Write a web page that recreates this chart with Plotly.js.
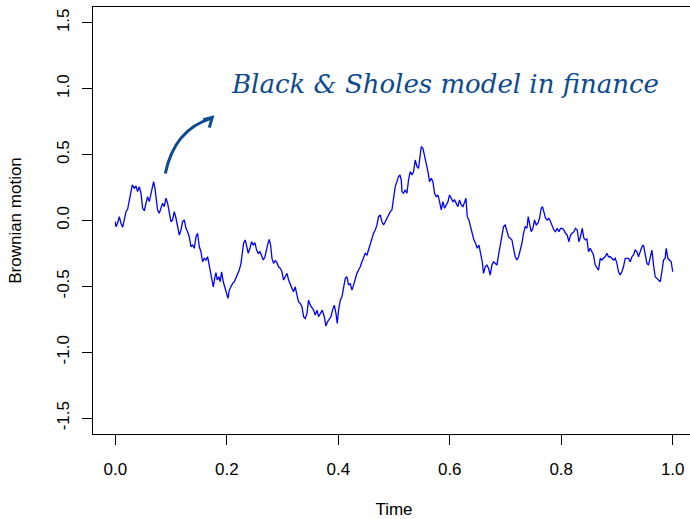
<!DOCTYPE html>
<html>
<head>
<meta charset="utf-8">
<script src="https://cdn.plot.ly/plotly-3.0.1.min.js"></script>
<style>
html,body{margin:0;padding:0;overflow:hidden;background:#fff;}
#chart{width:696px;height:519px;}
</style>
</head>
<body>
<div id="chart"></div>
<script>
// Time values (x) of the Brownian path
const time = [
0.0000,0.0013,0.0041,0.0072,0.0102,0.0131,0.0161,0.0192,0.0221,0.0251,0.0282,0.0305,0.0341,0.0371,0.0400,0.0430,0.0461,0.0490,0.0520,0.0551,
0.0579,0.0610,0.0640,0.0669,0.0687,0.0712,0.0735,0.0759,0.0789,0.0820,0.0848,0.0879,0.0909,0.0938,0.0969,0.0999,0.1028,0.1058,0.1089,0.1117,
0.1148,0.1178,0.1207,0.1238,0.1268,0.1297,0.1327,0.1358,0.1387,0.1417,0.1448,0.1476,0.1507,0.1537,0.1566,0.1596,0.1627,0.1656,0.1686,
0.1727,0.1758,0.1788,0.1806,0.1830,0.1860,0.1883,0.1907,0.1937,0.1967,0.1996,0.2022,0.2045,0.2075,0.2104,0.2135,0.2165,0.2194,0.2224,0.2255,
0.2278,0.2301,0.2332,0.2362,0.2386,0.2416,0.2445,0.2475,0.2506,0.2535,0.2565,0.2596,0.2624,0.2655,0.2685,0.2709,0.2739,0.2762,0.2786,0.2811,
0.2839,0.2870,0.2900,0.2929,0.2960,0.2990,0.3019,0.3049,0.3080,0.3109,0.3139,0.3170,0.3198,0.3229,0.3259,0.3288,
0.3318,0.3349,0.3378,0.3408,0.3439,0.3467,0.3498,0.3528,0.3557,0.3587,0.3618,0.3647,0.3677,0.3713,0.3749,0.3779,0.3808,0.3839,0.3869,0.3898,
0.3928,0.3959,0.3982,0.4005,0.4036,0.4066,0.4095,0.4126,0.4156,0.4185,0.4215,0.4246,0.4274,0.4305,0.4335,0.4364,0.4395,0.4425,0.4454,0.4484,
0.4515,0.4543,0.4574,0.4605,0.4633,0.4664,0.4694,0.4723,0.4753,0.4784,0.4813,0.4843,0.4874,0.4902,0.4933,0.4963,
0.5022,0.5053,0.5082,0.5107,0.5130,0.5143,0.5171,0.5202,0.5232,0.5261,0.5291,0.5322,0.5351,0.5381,0.5412,0.5440,0.5471,0.5489,0.5519,0.5548,
0.5578,0.5609,0.5638,0.5668,0.5699,0.5727,0.5758,0.5788,0.5817,0.5848,0.5878,0.5907,0.5937,0.5968,0.5996,0.6027,0.6057,0.6086,0.6117,0.6147,
0.6176,0.6206,0.6237,0.6265,0.6291,0.6314,0.6344,0.6373,0.6404,0.6434,0.6463,0.6493,0.6524,0.6553,0.6583,0.6606,0.6637,0.6667,0.6696,0.6726,
0.6757,0.6786,0.6816,0.6847,0.6875,0.6906,0.6936,0.6965,0.6996,0.7026,0.7055,0.7085,0.7116,0.7144,0.7175,0.7205,0.7234,0.7265,0.7295,0.7324,
0.7354,0.7385,0.7408,0.7431,0.7462,0.7492,0.7521,0.7552,0.7582,0.7611,0.7641,0.7664,0.7690,0.7718,0.7749,0.7779,0.7808,0.7839,0.7869,0.7898,
0.7928,0.7959,0.7987,0.8018,0.8048,0.8077,0.8108,0.8138,0.8167,0.8197,0.8228,0.8256,0.8287,0.8317,0.8346,0.8377,0.8407,0.8436,
0.8461,0.8490,0.8520,0.8551,0.8579,0.8610,0.8640,0.8669,0.8700,0.8730,0.8759,0.8789,0.8820,0.8848,0.8879,0.8909,0.8938,0.8969,0.8999,0.9028,
0.9058,0.9089,0.9117,0.9148,0.9178,0.9207,0.9238,0.9268,0.9297,0.9327,0.9358,0.9387,0.9417,0.9448,0.9476,0.9507,0.9537,0.9566,0.9596,0.9627,
0.9656,0.9686,0.9717,0.9745,0.9776,0.9806,0.9835,0.9865,0.9883,0.9914,0.9943,0.9973,1.0000
];
// Brownian motion values (y)
const motion = [
-0.009,-0.047,-0.021,0.029,-0.021,-0.052,0.004,0.067,0.085,0.143,0.207,0.270,0.244,0.262,0.219,0.257,0.207,0.093,0.074,0.131,
0.181,0.143,0.207,0.270,0.295,0.244,0.156,0.080,0.055,0.105,0.131,0.105,0.169,0.131,0.055,-0.009,0.004,0.067,0.017,-0.059,
-0.110,-0.072,-0.009,0.004,-0.059,-0.085,-0.123,-0.199,-0.186,-0.211,-0.123,-0.097,-0.199,-0.237,-0.313,-0.287,-0.300,-0.275,-0.351,
-0.427,-0.503,-0.427,-0.396,-0.452,-0.427,-0.465,-0.389,-0.465,-0.515,-0.548,-0.591,-0.528,-0.497,-0.477,-0.465,-0.439,-0.414,-0.376,-0.325,
-0.249,-0.173,-0.148,-0.199,-0.249,-0.211,-0.161,-0.186,-0.169,-0.224,-0.249,-0.237,-0.270,-0.300,-0.275,-0.224,-0.173,-0.143,-0.186,-0.287,
-0.325,-0.305,-0.320,-0.351,-0.363,-0.389,-0.452,-0.427,-0.401,-0.452,-0.477,-0.515,-0.541,-0.503,-0.566,-0.617,
-0.629,-0.655,-0.730,-0.743,-0.705,-0.604,-0.642,-0.667,-0.680,-0.718,-0.680,-0.730,-0.705,-0.680,-0.730,-0.801,-0.768,-0.743,-0.730,-0.680,
-0.642,-0.705,-0.781,-0.680,-0.604,-0.579,-0.515,-0.439,-0.427,-0.490,-0.477,-0.528,-0.490,-0.439,-0.401,-0.376,-0.351,-0.313,-0.275,-0.249,
-0.262,-0.224,-0.173,-0.135,-0.097,-0.072,-0.034,0.029,0.042,-0.009,-0.034,-0.009,0.017,0.042,0.067,0.080,
0.257,0.295,0.333,0.345,0.308,0.219,0.207,0.232,0.207,0.308,0.371,0.345,0.371,0.459,0.409,0.396,0.510,0.560,0.548,0.497,
0.446,0.371,0.295,0.320,0.295,0.207,0.181,0.194,0.143,0.080,0.143,0.093,0.118,0.143,0.194,0.169,0.143,0.156,0.131,0.105,
0.156,0.118,0.105,0.143,0.169,0.029,0.004,-0.047,-0.110,-0.148,-0.173,-0.211,-0.186,-0.237,-0.313,-0.401,-0.351,-0.338,-0.363,-0.414,
-0.338,-0.313,-0.325,-0.338,-0.262,-0.186,-0.123,-0.047,-0.034,-0.072,-0.123,-0.135,-0.148,-0.211,-0.275,-0.300,-0.275,-0.224,-0.173,-0.097,
-0.047,-0.059,0.029,-0.021,-0.085,-0.059,0.004,-0.034,-0.021,0.017,0.093,0.105,0.067,0.017,0.004,0.017,-0.009,-0.047,-0.072,-0.085,
-0.059,-0.085,-0.059,-0.059,-0.072,-0.097,-0.110,-0.161,-0.110,-0.097,-0.085,-0.059,-0.072,-0.161,-0.123,-0.059,-0.135,-0.148,
-0.140,-0.237,-0.211,-0.237,-0.262,-0.338,-0.363,-0.376,-0.287,-0.300,-0.287,-0.275,-0.249,-0.275,-0.275,-0.287,-0.300,-0.287,-0.325,-0.389,
-0.414,-0.389,-0.351,-0.287,-0.287,-0.287,-0.313,-0.275,-0.262,-0.224,-0.237,-0.275,-0.237,-0.199,-0.186,-0.262,-0.325,-0.338,-0.275,-0.224,
-0.338,-0.427,-0.439,-0.452,-0.465,-0.389,-0.300,-0.287,-0.211,-0.287,-0.300,-0.313,-0.389
];
const xTicks = [0, 0.2, 0.4, 0.6, 0.8, 1.0];
const xTickText = ["0.0", "0.2", "0.4", "0.6", "0.8", "1.0"];
const yTicks = [-1.5, -1.0, -0.5, 0, 0.5, 1.0, 1.5];
const yTickText = ["-1.5", "-1.0", "-0.5", "0.0", "0.5", "1.0", "1.5"];
const titleText = "Black & Sholes model in finance";

const ink = "#0d4a8e";
const baseFont = {family: "Liberation Sans, Arial, sans-serif", size: 17, color: "#000"};

const trace = {
  x: time, y: motion, type: "scatter", mode: "lines",
  line: {color: "#0000ff", width: 1.3},
  hoverinfo: "skip"
};

const layout = {
  width: 696, height: 519,
  margin: {l: 93, r: 1, t: 7, b: 85},
  paper_bgcolor: "#fff", plot_bgcolor: "#fff",
  showlegend: false,
  font: baseFont,
  xaxis: {
    range: [-0.04, 1.04], tickvals: xTicks, ticktext: xTickText,
    ticks: "outside", ticklen: 10, tickwidth: 1, tickcolor: "#000",
    showline: true, mirror: true, linecolor: "#000", linewidth: 1,
    showgrid: false, zeroline: false, ticklabelstandoff: 10,
    tickfont: baseFont,
    title: {text: "Time", font: baseFont, standoff: 27}
  },
  yaxis: {
    range: [-1.62, 1.62], tickvals: yTicks, ticktext: yTickText,
    ticks: "outside", ticklen: 10, tickwidth: 1, tickcolor: "#000",
    showline: true, mirror: true, linecolor: "#000", linewidth: 1,
    showgrid: false, zeroline: false, tickangle: -90, ticklabelstandoff: 6,
    tickfont: baseFont,
    title: {text: "Brownian motion", font: baseFont, standoff: 28}
  },
  annotations: [{
    text: titleText, xref: "x", yref: "y", x: 0.592, y: 1.036,
    xanchor: "center", yanchor: "middle", showarrow: false,
    font: {family: "DejaVu Serif, serif", size: 26, color: ink, style: "italic"}
  }],
  shapes: [
    {type: "path", xref: "x", yref: "y",
     path: "M 0.0897,0.357 Q 0.106,0.690 0.172,0.775",
     line: {color: ink, width: 3}},
    {type: "path", xref: "x", yref: "y",
     path: "M 0.1578,0.765 L 0.1740,0.782 L 0.1686,0.705",
     line: {color: ink, width: 3}}
  ]
};

Plotly.newPlot("chart", [trace], layout, {staticPlot: true, displayModeBar: false});
</script>
</body>
</html>
